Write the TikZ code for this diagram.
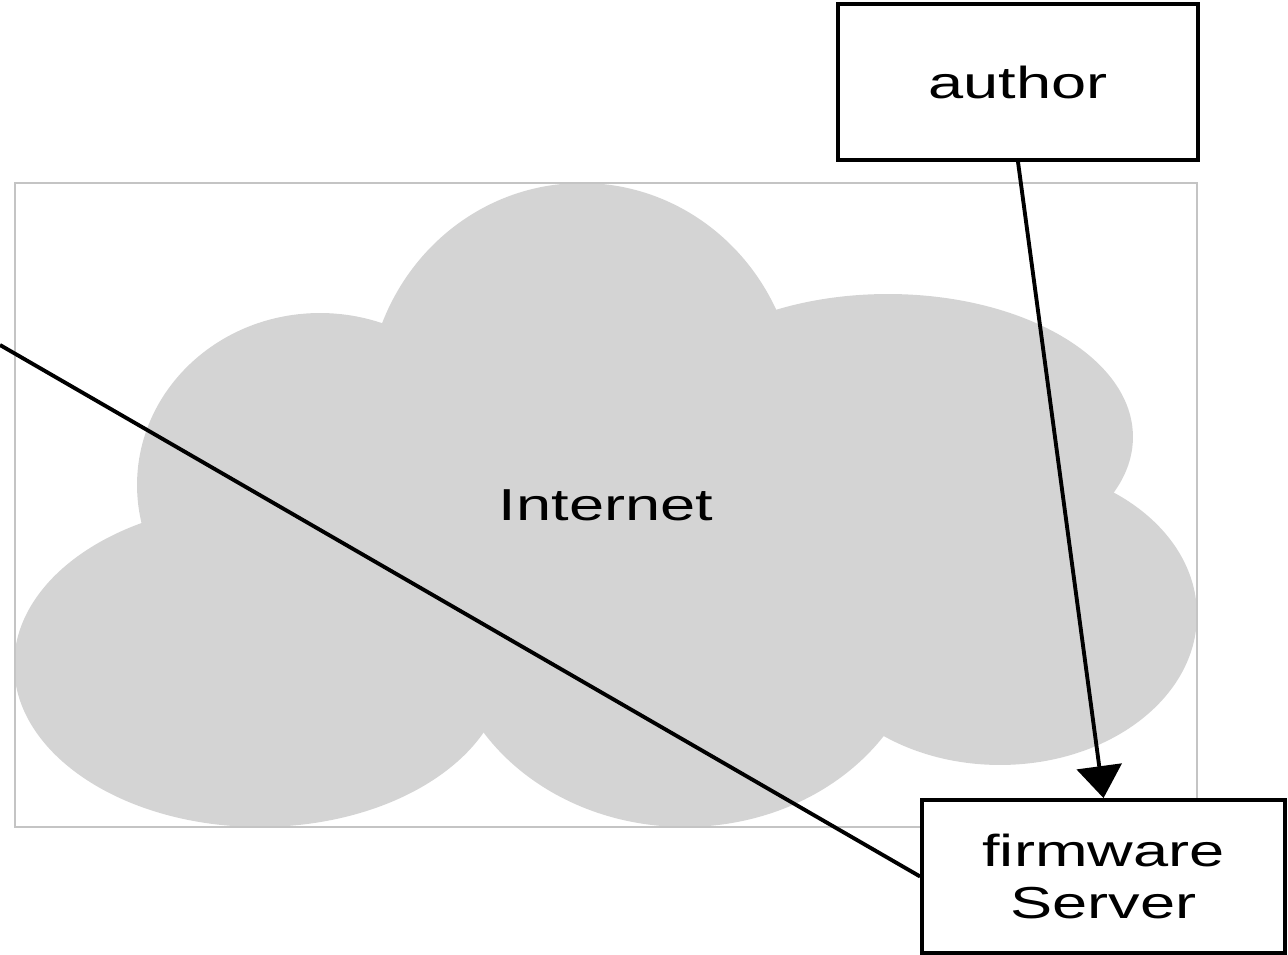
\documentclass[tikz,border=0pt]{standalone}
\usepackage{fontspec}
\usepackage{tikz}
\usetikzlibrary{positioning,arrows.meta}
\newfontfamily\boxfont{Liberation Sans}[FakeStretch=1.41]
\definecolor{cloudgray}{HTML}{D4D4D4}
\definecolor{framegray}{HTML}{C4C4C4}

\begin{document}
\begin{tikzpicture}[x=0.02cm, y=-0.02cm, line width=2.2pt]
        \tikzstyle{label text}=[font=\boxfont\fontsize{25.5}{29.5}\selectfont, align=center];
        \tikzstyle{box}=[label text, draw=black, fill=white, inner sep=0pt];
        \tikzstyle{cloud frame}=[label text, draw=framegray, line width=0.8pt, minimum width=23.64cm, minimum height=12.88cm, inner sep=0pt];
        \tikzstyle{link}=[draw=black];
        \tikzstyle{flow}=[link, -{Triangle[width=0.9cm, length=0.64cm]}];
        \useasboundingbox (0,0) rectangle (1288,955);

        % cloud lobes
        \foreach \cx / \cy / \rx / \ry in {260/665/4.92/3.24, 320/485/3.66/3.44, 582/405/4.3/4.44,
                                          888/437/4.9/2.86, 1000/615/3.94/3.0, 685/620/4.8/4.14}
            \fill[cloudgray] (\cx, \cy) ellipse [x radius=\rx cm, y radius=\ry cm];
        % internet
        \node[cloud frame] (internet) at (606, 505) {Internet};
        % end points
        \node[box, minimum width=7.2cm, minimum height=3.12cm] (author) at (1018, 82) {author};
        \node[box, minimum width=7.26cm, minimum height=3.06cm] (server) at (1103.5, 876.5) {firmware\\Server};
        \coordinate (outside) at (0, 345);
        % connections
        \path[flow] (author.south) -- (server.north);
        \path[link] (outside) -- (server.west);
    \end{tikzpicture}
\end{document}
